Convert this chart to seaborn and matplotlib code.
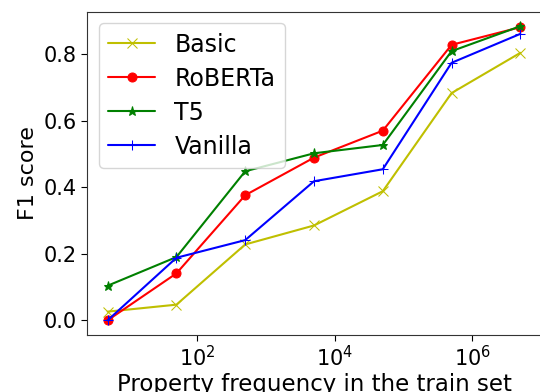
import numpy as np
import pandas as pd
import matplotlib
matplotlib.use("Agg")
import matplotlib.pyplot as plt
import seaborn as sns
from matplotlib.ticker import NullLocator

# ----------------------------------------------------------------------
# Data
# ----------------------------------------------------------------------
freq = [5, 50, 500, 5000, 50000, 500000, 5000000]
basic = [0.026, 0.047, 0.228, 0.285, 0.388, 0.683, 0.804]
roberta = [0.0, 0.141, 0.376, 0.489, 0.570, 0.828, 0.881]
t5 = [0.104, 0.190, 0.448, 0.502, 0.527, 0.809, 0.884]
vanilla = [0.0, 0.188, 0.241, 0.418, 0.454, 0.774, 0.861]

models = ["Basic", "RoBERTa", "T5", "Vanilla"]
colors = {"Basic": "y", "RoBERTa": "r", "T5": "g", "Vanilla": "b"}
markers = {"Basic": "x", "RoBERTa": "o", "T5": "*", "Vanilla": "+"}

df = pd.DataFrame({
    "freq": freq * 4,
    "f1": basic + roberta + t5 + vanilla,
    "model": sum([[m] * len(freq) for m in models], []),
})

# ----------------------------------------------------------------------
# Plot
# ----------------------------------------------------------------------
sns.set_style("ticks")
plt.rcParams["font.family"] = ["DejaVu Sans"]
plt.rcParams["text.color"] = "black"
plt.rcParams["axes.labelcolor"] = "black"
plt.rcParams["xtick.color"] = "black"
plt.rcParams["ytick.color"] = "black"

fig = plt.figure(figsize=(5.4, 3.92), dpi=100)
ax = fig.add_axes([87 / 540, 57 / 392, 454 / 540, 323.5 / 392])

for m in models:
    sub = df[df["model"] == m]
    sns.lineplot(data=sub, x="freq", y="f1", ax=ax, color=colors[m],
                 marker=markers[m], markersize=6.5, linewidth=1.5,
                 markeredgecolor=colors[m], label=m)

ax.set_xscale("log")
ax.set_xticks([1e2, 1e4, 1e6])
ax.xaxis.set_minor_locator(NullLocator())
ax.set_yticks([0.0, 0.2, 0.4, 0.6, 0.8])
ax.set_yticklabels(["0.0", "0.2", "0.4", "0.6", "0.8"])
ax.tick_params(labelsize=15, length=4)
ax.set_xlabel("Property frequency in the train set", fontsize=16.5, labelpad=2)
ax.set_ylabel("F1 score", fontsize=16)

for s in ax.spines.values():
    s.set_color("#333333")

ax.legend(loc="upper left", fontsize=17, labelspacing=0.42, framealpha=0.8)

fig.savefig("out.png", dpi=100)
